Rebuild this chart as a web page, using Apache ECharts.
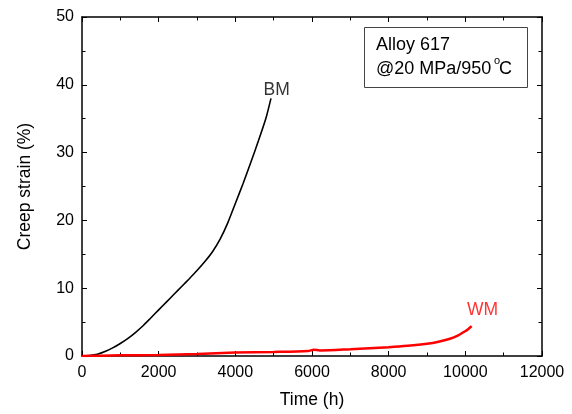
<!DOCTYPE html>
<html><head><meta charset="utf-8">
<script src="https://cdn.jsdelivr.net/npm/echarts@6/dist/echarts.min.js"></script>
<style>html,body{margin:0;padding:0;background:#fff}#c{width:572px;height:414px}</style>
</head><body><div id="c"></div>
<script>
// Time (h) and creep strain (%)
const bmTime   = [0, 200, 400, 600, 800, 1000, 1200, 1400, 1600, 1800, 2000, 2200, 2400, 2600, 2800, 3000, 3200, 3400, 3600, 3800, 4000, 4200, 4400, 4600, 4800, 4930];
const bmStrain = [0, 0.07, 0.25, 0.65, 1.2, 1.85, 2.6, 3.5, 4.5, 5.65, 6.8, 7.95, 9.1, 10.25, 11.4, 12.6, 13.9, 15.35, 17.2, 19.6, 22.5, 25.4, 28.5, 31.7, 35.1, 38.0];
const wmTime   = [0, 500, 1000, 2000, 3000, 4000, 5000, 5900, 6050, 6200, 7000, 8000, 8500, 9000, 9300, 9600, 9800, 9950, 10080, 10165];
const wmStrain = [0, 0.05, 0.1, 0.15, 0.3, 0.5, 0.6, 0.75, 0.92, 0.82, 1.0, 1.3, 1.5, 1.8, 2.1, 2.55, 3.0, 3.5, 4.0, 4.4];
const xTicks = {min: 0, max: 12000, interval: 2000};
const yTicks = {min: 0, max: 50, interval: 10};
const curveLabels = [{name: 'BM', t: 5080, s: 39.15}, {name: 'WM', t: 10450, s: 6.75}];
const boxLines = ['Alloy 617', '@20 MPa/950', 'o', 'C'];

const font = 'Liberation Sans, Arial, sans-serif';
const chart = echarts.init(document.getElementById('c'), null, {renderer: 'canvas'});
const axisLine = {show: true, onZero: false, lineStyle: {color: '#000', width: 1.5}};
const tick = {show: true, inside: true, length: 5, lineStyle: {color: '#000', width: 1}};
const minor = {show: true, splitNumber: 2, length: 3.5, lineStyle: {color: '#000', width: 1}};
function pairs(a, b) { return a.map((v, i) => [v, b[i]]); }
chart.setOption({
  animation: false,
  grid: {left: 82, right: 30, top: 17, bottom: 58, containLabel: false},
  xAxis: [{
    type: 'value', position: 'bottom', min: xTicks.min, max: xTicks.max, interval: xTicks.interval,
    name: 'Time (h)', nameLocation: 'middle', nameGap: 35,
    nameTextStyle: {fontFamily: font, fontSize: 17.5, color: '#000'},
    axisLine, axisTick: tick, minorTick: minor, splitLine: {show: false},
    axisLabel: {fontFamily: font, fontSize: 16, color: '#000', margin: 9, formatter: v => String(v)}
  }, {
    type: 'value', position: 'top', min: xTicks.min, max: xTicks.max, interval: xTicks.interval,
    axisLine, axisTick: tick, minorTick: minor, splitLine: {show: false}, axisLabel: {show: false}
  }],
  yAxis: [{
    type: 'value', position: 'left', min: yTicks.min, max: yTicks.max, interval: yTicks.interval,
    name: 'Creep strain (%)', nameLocation: 'middle', nameGap: 48,
    nameTextStyle: {fontFamily: font, fontSize: 17.5, color: '#000'},
    axisLine, axisTick: tick, minorTick: minor, splitLine: {show: false},
    axisLabel: {fontFamily: font, fontSize: 16, color: '#000', margin: 8, formatter: v => String(v)}
  }, {
    type: 'value', position: 'right', min: yTicks.min, max: yTicks.max, interval: yTicks.interval,
    axisLine, axisTick: tick, minorTick: minor, splitLine: {show: false}, axisLabel: {show: false}
  }],
  series: [{
    type: 'line', name: 'BM', data: pairs(bmTime, bmStrain), smooth: 0.2, showSymbol: false,
    lineStyle: {color: '#000', width: 1.6}, itemStyle: {color: '#000'}
  }, {
    type: 'line', name: 'WM', data: pairs(wmTime, wmStrain), smooth: 0.3, showSymbol: false,
    lineStyle: {color: '#ff0000', width: 2.5}, itemStyle: {color: '#ff0000'}
  }, {
    type: 'scatter', name: 'labels', symbolSize: 1, silent: true,
    itemStyle: {color: 'rgba(0,0,0,0)'},
    data: curveLabels.map((d, i) => ({
      value: [d.t, d.s],
      label: {show: true, position: 'inside', formatter: d.name, fontFamily: font, fontSize: 17.5,
              color: i === 0 ? '#000' : '#ff0000', textBorderWidth: 0}
    }))
  }],
  graphic: [{
    type: 'rect', left: 364, top: 27, shape: {width: 163, height: 60},
    style: {fill: '#fff', stroke: '#444', lineWidth: 1}
  }, {
    type: 'text', left: 376, top: 36,
    style: {text: boxLines[0], font: '18px ' + font, fill: '#000'}
  }, {
    type: 'text', left: 376, top: 60,
    style: {text: boxLines[1], font: '18px ' + font, fill: '#000'}
  }, {
    type: 'text', left: 494, top: 55,
    style: {text: boxLines[2], font: '11px ' + font, fill: '#000'}
  }, {
    type: 'text', left: 499, top: 60,
    style: {text: boxLines[3], font: '18px ' + font, fill: '#000'}
  }]
});
</script></body></html>
